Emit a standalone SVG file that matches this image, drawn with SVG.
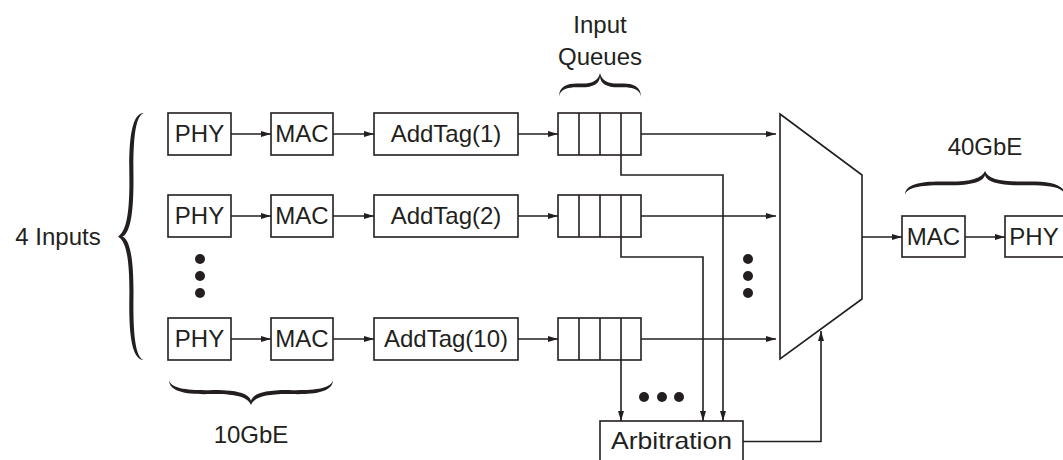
<svg xmlns="http://www.w3.org/2000/svg" width="1063" height="460" viewBox="0 0 1063 460">
  <defs>
    <style>
      .box { fill: #ffffff; stroke: #231f20; stroke-width: 1.6; }
      .wire { fill: none; stroke: #231f20; stroke-width: 1.6; }
      .lbl { font-family: "Liberation Sans", Arial, sans-serif; font-size: 24px; fill: #231f20; text-anchor: middle; }
      .dot { fill: #231f20; }
      .brace { fill: #231f20; }
    </style>
    <marker id="arrow" viewBox="0 0 10 6" refX="10" refY="3" markerWidth="10" markerHeight="6" markerUnits="userSpaceOnUse" orient="auto">
      <path d="M0,0 L10,3 L0,6 Z" fill="#231f20"/>
    </marker>
    <!-- curly brace, 100 wide x 24 high, tip pointing up at (50,0) -->
    <path id="brace" class="brace" d="M0,24 C0,12 12,10 25,10.5 C40,11 48,8 50,0 C52,8 60,11 75,10.5 C88,10 100,12 100,24 C99,15.5 88,14 75,14.3 C59,14.8 51,11 50,4 C49,11 41,14.8 25,14.3 C12,14 1,15.5 0,24 Z"/>
  </defs>

  <!-- group labels and braces -->
  <g id="inputs-label">
    <text class="lbl" x="58" y="245">4 Inputs</text>
    <use href="#brace" transform="translate(118,360) rotate(-90) scale(2.47,1.08)"/>
  </g>
  <g id="queues-label">
    <text class="lbl" x="600" y="33">Input</text>
    <text class="lbl" x="600" y="65">Queues</text>
    <use href="#brace" transform="translate(559,73) scale(0.82,1)"/>
  </g>
  <g id="tenG-label">
    <use href="#brace" transform="translate(169,405) scale(1.64,-1.04)"/>
    <text class="lbl" x="251" y="443">10GbE</text>
  </g>
  <g id="fortyG-label">
    <text class="lbl" x="985" y="155">40GbE</text>
    <use href="#brace" transform="translate(905,171) scale(1.6,1)"/>
  </g>

  <!-- connectors -->
  <g id="connectors">
    <!-- row 1 -->
    <line class="wire" x1="231" y1="134" x2="271" y2="134" marker-end="url(#arrow)"/>
    <line class="wire" x1="333" y1="134" x2="374" y2="134" marker-end="url(#arrow)"/>
    <line class="wire" x1="518" y1="134" x2="558" y2="134" marker-end="url(#arrow)"/>
    <line class="wire" x1="641" y1="134" x2="776" y2="134" marker-end="url(#arrow)"/>
    <!-- row 2 -->
    <line class="wire" x1="231" y1="216" x2="271" y2="216" marker-end="url(#arrow)"/>
    <line class="wire" x1="333" y1="216" x2="374" y2="216" marker-end="url(#arrow)"/>
    <line class="wire" x1="518" y1="216" x2="558" y2="216" marker-end="url(#arrow)"/>
    <line class="wire" x1="641" y1="216" x2="776" y2="216" marker-end="url(#arrow)"/>
    <!-- row 10 -->
    <line class="wire" x1="231" y1="339" x2="271" y2="339" marker-end="url(#arrow)"/>
    <line class="wire" x1="333" y1="339" x2="374" y2="339" marker-end="url(#arrow)"/>
    <line class="wire" x1="518" y1="339" x2="558" y2="339" marker-end="url(#arrow)"/>
    <line class="wire" x1="641" y1="339" x2="776" y2="339" marker-end="url(#arrow)"/>
    <!-- queue status to arbitration -->
    <polyline class="wire" points="621,155 621,175 723,175 723,421" marker-end="url(#arrow)"/>
    <polyline class="wire" points="621,237 621,257 703,257 703,421" marker-end="url(#arrow)"/>
    <line class="wire" x1="621" y1="360" x2="621" y2="421" marker-end="url(#arrow)"/>
    <!-- arbitration select to mux -->
    <polyline class="wire" points="743,441.5 821,441.5 821,331" marker-end="url(#arrow)"/>
    <!-- output path -->
    <line class="wire" x1="862" y1="237" x2="902" y2="237" marker-end="url(#arrow)"/>
    <line class="wire" x1="965" y1="237" x2="1005" y2="237" marker-end="url(#arrow)"/>
  </g>

  <!-- input row 1 -->
  <g id="phy1"><rect class="box" x="168" y="113" width="63" height="42"/><text class="lbl" x="199.5" y="142">PHY</text></g>
  <g id="mac1"><rect class="box" x="271" y="113" width="62" height="42"/><text class="lbl" x="302" y="142">MAC</text></g>
  <g id="addtag1"><rect class="box" x="374" y="113" width="144" height="42"/><text class="lbl" x="446" y="142">AddTag(1)</text></g>
  <g id="queue1">
    <rect class="box" x="558" y="113" width="83" height="42"/>
    <path class="wire" d="M579,113 V155 M600,113 V155 M621,113 V155"/>
  </g>

  <!-- input row 2 -->
  <g id="phy2"><rect class="box" x="168" y="195" width="63" height="42"/><text class="lbl" x="199.5" y="224">PHY</text></g>
  <g id="mac2"><rect class="box" x="271" y="195" width="62" height="42"/><text class="lbl" x="302" y="224">MAC</text></g>
  <g id="addtag2"><rect class="box" x="374" y="195" width="144" height="42"/><text class="lbl" x="446" y="224">AddTag(2)</text></g>
  <g id="queue2">
    <rect class="box" x="558" y="195" width="83" height="42"/>
    <path class="wire" d="M579,195 V237 M600,195 V237 M621,195 V237"/>
  </g>

  <!-- input row 10 -->
  <g id="phy10"><rect class="box" x="168" y="318" width="63" height="42"/><text class="lbl" x="199.5" y="347">PHY</text></g>
  <g id="mac10"><rect class="box" x="271" y="318" width="62" height="42"/><text class="lbl" x="302" y="347">MAC</text></g>
  <g id="addtag10"><rect class="box" x="374" y="318" width="144" height="42"/><text class="lbl" x="446" y="347">AddTag(10)</text></g>
  <g id="queue10">
    <rect class="box" x="558" y="318" width="83" height="42"/>
    <path class="wire" d="M579,318 V360 M600,318 V360 M621,318 V360"/>
  </g>

  <!-- ellipses -->
  <g id="dots-left">
    <circle class="dot" cx="200" cy="259" r="5"/><circle class="dot" cx="200" cy="276" r="5"/><circle class="dot" cx="200" cy="293" r="5"/>
  </g>
  <g id="dots-mux">
    <circle class="dot" cx="748" cy="259" r="5"/><circle class="dot" cx="748" cy="276" r="5"/><circle class="dot" cx="748" cy="293" r="5"/>
  </g>
  <g id="dots-arb">
    <circle class="dot" cx="644" cy="397" r="5"/><circle class="dot" cx="662" cy="397" r="5"/><circle class="dot" cx="679" cy="397" r="5"/>
  </g>

  <!-- multiplexer -->
  <g id="mux">
    <polygon class="box" points="780,114 862,175 862,299 780,359"/>
  </g>

  <!-- arbitration -->
  <g id="arbitration">
    <rect class="box" x="600" y="421" width="143" height="50"/>
    <text class="lbl" x="671.5" y="449" textLength="121" lengthAdjust="spacingAndGlyphs">Arbitration</text>
  </g>

  <!-- 40GbE output -->
  <g id="mac-out"><rect class="box" x="902" y="216" width="63" height="41"/><text class="lbl" x="933.5" y="245">MAC</text></g>
  <g id="phy-out"><rect class="box" x="1005" y="216" width="62" height="41"/><text class="lbl" x="1034" y="245">PHY</text></g>
</svg>
